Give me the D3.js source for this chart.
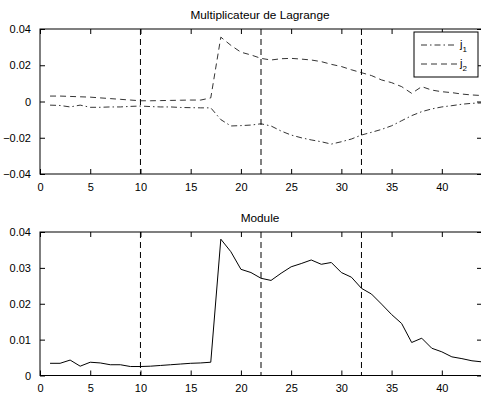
<!DOCTYPE html>
<html lang="fr">
<head>
<meta charset="utf-8">
<title>Multiplicateur de Lagrange</title>
<script src="https://d3js.org/d3.v7.min.js"></script>
<style>
  body { margin: 0; background: #fff; }
  svg { font-family: "Liberation Sans", Arial, sans-serif; font-size: 11px; }
  .axis text { fill: #000; }
</style>
</head>
<body>
<div id="chart"></div>
<script>
// instants 1..44
const steps = d3.range(1, 45);
const j1 = [-0.0020, -0.0022, -0.0030, -0.0020, -0.0032, -0.0032, -0.0030, -0.0030, -0.0027, -0.0025,
            -0.0028, -0.0030, -0.0030, -0.0033, -0.0034, -0.0035, -0.0035, -0.0100, -0.0135, -0.0133,
            -0.0130, -0.0123, -0.0135, -0.0163, -0.0185, -0.0200, -0.0212, -0.0222, -0.0235, -0.0222,
            -0.0207, -0.0185, -0.0170, -0.0154, -0.0134, -0.0106, -0.0078, -0.0056, -0.0041, -0.0030,
            -0.0023, -0.0015, -0.0010, -0.0008];
const j2 = [0.0030, 0.0030, 0.0028, 0.0026, 0.0024, 0.0020, 0.0016, 0.0012, 0.0008, 0.0004,
            0.0004, 0.0005, 0.0006, 0.0007, 0.0008, 0.0008, 0.0020, 0.0355, 0.0310, 0.0272,
            0.0257, 0.0238, 0.0229, 0.0236, 0.0238, 0.0234, 0.0229, 0.0220, 0.0205, 0.0193,
            0.0175, 0.0159, 0.0143, 0.0119, 0.0104, 0.0082, 0.0045, 0.0082, 0.0063, 0.0054,
            0.0049, 0.0041, 0.0036, 0.0033];
const module = [0.0034, 0.0034, 0.0043, 0.0026, 0.0037, 0.0035, 0.0030, 0.0030, 0.0025, 0.0025,
                0.0026, 0.0028, 0.0030, 0.0032, 0.0034, 0.0035, 0.0037, 0.0380, 0.0345, 0.0296,
                0.0287, 0.0271, 0.0265, 0.0285, 0.0303, 0.0312, 0.0322, 0.0310, 0.0315, 0.0287,
                0.0274, 0.0243, 0.0227, 0.0199, 0.0170, 0.0145, 0.0092, 0.0104, 0.0076, 0.0066,
                0.0052, 0.0047, 0.0041, 0.0038];
const switchTimes = [10, 22, 32];
const xTicks = [0, 5, 10, 15, 20, 25, 30, 35, 40];
const yTicksTop = [-0.04, -0.02, 0, 0.02, 0.04];
const yTicksBottom = [0, 0.01, 0.02, 0.03, 0.04];

const W = 481, H = 394;
const left = 40, right = 482;
const svg = d3.select("#chart").append("svg")
    .attr("width", W).attr("height", H);

const x = d3.scaleLinear().domain([0, 44]).range([left, right]);
const fmt = d => d === 0 ? "0" : d3.format(".2f")(d).replace("-", "\u2212");

function panel(top, bottom, yDomain, yTicks, title) {
  const y = d3.scaleLinear().domain(yDomain).range([bottom, top]);
  const g = svg.append("g");

  // switching instants
  g.selectAll(".vline")
    .data(switchTimes)
    .join("line")
      .attr("x1", d => x(d)).attr("x2", d => x(d))
      .attr("y1", top).attr("y2", bottom)
      .attr("stroke", "#000").attr("stroke-width", 1)
      .attr("stroke-dasharray", "6,4");

  // axes with inward ticks on all four sides
  g.append("g").attr("class", "axis")
      .attr("transform", `translate(0,${bottom})`)
      .call(d3.axisBottom(x).tickValues(xTicks).tickSizeInner(-5).tickSizeOuter(0).tickPadding(9).tickFormat(d3.format("d")))
      .call(a => a.select(".domain").remove());
  g.append("g").attr("class", "axis")
      .attr("transform", `translate(0,${top})`)
      .call(d3.axisTop(x).tickValues(xTicks).tickSizeInner(-5).tickSizeOuter(0).tickFormat(""))
      .call(a => a.select(".domain").remove());
  g.append("g").attr("class", "axis")
      .attr("transform", `translate(${left},0)`)
      .call(d3.axisLeft(y).tickValues(yTicks).tickSizeInner(-5).tickSizeOuter(0).tickPadding(9).tickFormat(fmt))
      .call(a => a.select(".domain").remove());
  g.append("g").attr("class", "axis")
      .attr("transform", `translate(${right},0)`)
      .call(d3.axisRight(y).tickValues(yTicks).tickSizeInner(-5).tickSizeOuter(0).tickFormat(""))
      .call(a => a.select(".domain").remove());
  g.selectAll(".axis text").style("font-size", "11px").style("font-family", "'Liberation Sans', Arial, sans-serif");

  g.append("rect")
      .attr("x", left).attr("y", top)
      .attr("width", right - left).attr("height", bottom - top)
      .attr("fill", "none").attr("stroke", "#000").attr("stroke-width", 1);

  g.append("text")
      .attr("x", 260).attr("y", top - 10.5)
      .attr("text-anchor", "middle")
      .style("font-size", "11.8px")
      .text(title);
  return {g, y};
}

// upper panel
const p1 = panel(29, 174, [-0.04, 0.04], yTicksTop, "Multiplicateur de Lagrange");
const line1 = d3.line().x((d, i) => x(steps[i])).y(d => p1.y(d));
p1.g.append("path").datum(j1)
    .attr("d", line1).attr("fill", "none").attr("stroke", "#000")
    .attr("stroke-width", 0.8).attr("stroke-dasharray", "6,3,1.5,3");
p1.g.append("path").datum(j2)
    .attr("d", line1).attr("fill", "none").attr("stroke", "#000")
    .attr("stroke-width", 0.8).attr("stroke-dasharray", "6,4");

// legend
const lg = p1.g.append("g").attr("transform", "translate(414,32)");
lg.append("rect").attr("width", 64).attr("height", 45)
    .attr("fill", "#fff").attr("stroke", "#000").attr("stroke-width", 1);
const items = [{name: "1", dash: "6,3,1.5,3"}, {name: "2", dash: "6,4"}];
items.forEach((it, i) => {
  const yy = 13 + i * 19;
  lg.append("line").attr("x1", 7).attr("x2", 43).attr("y1", yy).attr("y2", yy)
      .attr("stroke", "#000").attr("stroke-width", 0.8).attr("stroke-dasharray", it.dash);
  const t = lg.append("text").attr("x", 46).attr("y", yy + 3).attr("fill", "#000");
  t.append("tspan").text("j");
  t.append("tspan").attr("dy", 4).style("font-size", "8px").text(it.name);
});

// lower panel
const p2 = panel(232, 375.5, [0, 0.04], yTicksBottom, "Module");
const line2 = d3.line().x((d, i) => x(steps[i])).y(d => p2.y(d));
p2.g.append("path").datum(module)
    .attr("d", line2).attr("fill", "none").attr("stroke", "#000").attr("stroke-width", 1);
</script>
</body>
</html>
